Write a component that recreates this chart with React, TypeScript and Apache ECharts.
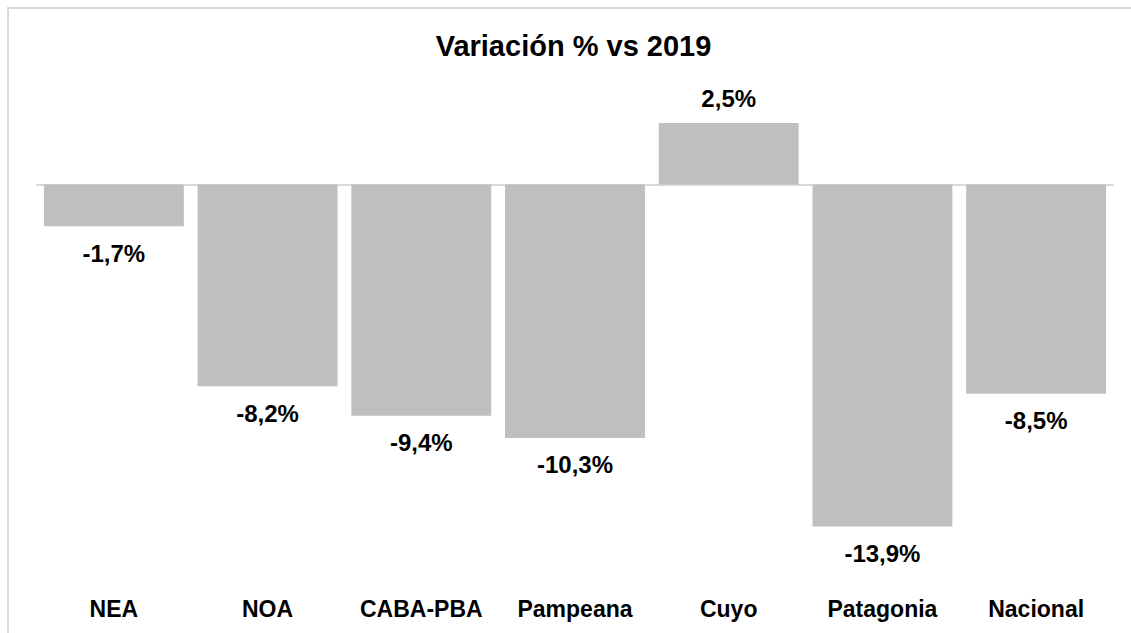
import React, { useEffect, useRef } from "react";
import * as echarts from "echarts";

const categories = ["NEA", "NOA", "CABA-PBA", "Pampeana", "Cuyo", "Patagonia", "Nacional"];
const variation = [-1.7, -8.2, -9.4, -10.3, 2.5, -13.9, -8.5];
const titleText = "Variación % vs 2019";

const BAR = "#bfbfbf";
const LINE = "#d9d9d9";
const FONT = "Liberation Sans, Arial, sans-serif";

export default function App() {
  const ref = useRef<HTMLDivElement>(null);
  useEffect(() => {
    if (!ref.current) return;
    const chart = echarts.init(ref.current, null, { renderer: "svg" });
    const fmt = (v: number) => v.toFixed(1).replace(".", ",") + "%";
    chart.setOption({
      animation: false,
      backgroundColor: "#ffffff",
      graphic: [
        {
          type: "rect",
          shape: { x: 8, y: 8, width: 1200, height: 700 },
          style: { fill: "none", stroke: LINE, lineWidth: 2 },
          silent: true,
        },
        {
          type: "text",
          x: 573.5,
          y: 46,
          style: {
            text: titleText,
            textAlign: "center",
            textVerticalAlign: "middle",
            fontFamily: FONT,
            fontWeight: "bold",
            fontSize: 29,
            fill: "#000000",
          },
        },
      ],
      grid: { left: 37, right: 18, top: 86, bottom: 104, containLabel: false },
      xAxis: [
        {
          type: "category",
          data: categories,
          axisLine: { show: true, onZero: true, lineStyle: { color: LINE, width: 2 } },
          axisTick: { show: false },
          axisLabel: { show: false },
        },
        {
          type: "category",
          data: categories,
          position: "bottom",
          axisLine: { show: false, onZero: false },
          axisTick: { show: false },
          axisLabel: {
            show: true,
            interval: 0,
            margin: 68,
            fontFamily: FONT,
            fontWeight: "bold",
            fontSize: 23,
            color: "#000000",
          },
        },
      ],
      yAxis: {
        type: "value",
        min: -14,
        max: 4,
        show: false,
        splitLine: { show: false },
      },
      series: [
        {
          type: "bar",
          xAxisIndex: 0,
          barCategoryGap: "9%",
          itemStyle: { color: BAR },
          data: variation.map((v) => ({
            value: v,
            label: {
              show: true,
              position: v >= 0 ? "top" : "bottom",
              distance: v >= 0 ? 12 : 15,
              formatter: () => fmt(v),
              fontFamily: FONT,
              fontWeight: "bold",
              fontSize: 24,
              color: "#000000",
            },
          })),
        },
      ],
    });
    return () => chart.dispose();
  }, []);
  return (
    <div
      ref={ref}
      style={{ position: "fixed", left: 0, top: 0, width: 1131, height: 633 }}
    />
  );
}
